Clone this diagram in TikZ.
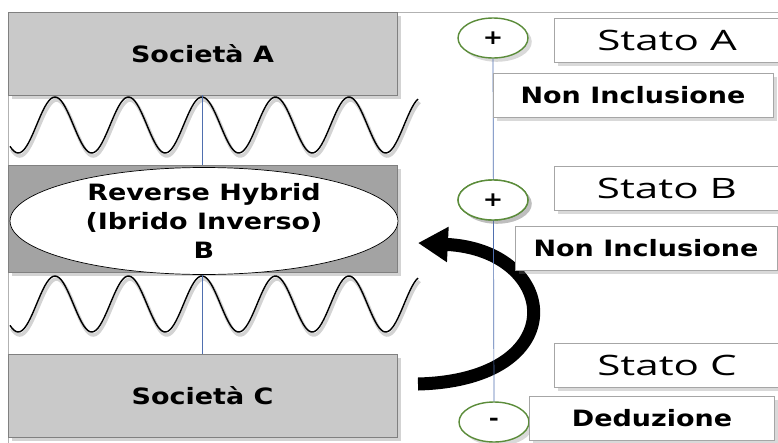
\documentclass[tikz,border=0pt]{standalone}
\usepackage{fontspec}
\newfontfamily\lab[FakeStretch=1.2]{DejaVu Sans Bold}
\newfontfamily\statofont[FakeStretch=1.5]{Open Sans}
\usepackage{tikz}
\usetikzlibrary{shapes.geometric}
\usetikzlibrary{shadows}
\usetikzlibrary{arrows.meta}

\definecolor{boxgray}{HTML}{C9C9C9}
\definecolor{hybridgray}{HTML}{A3A3A3}
\definecolor{lineblue}{HTML}{4F6FAF}
\definecolor{ringgreen}{HTML}{5B8C3A}

\tikzset{
  societa/.style={draw=gray, fill=boxgray, minimum width=7.78cm, inner sep=0pt,
    font=\lab\fontsize{12.8}{15}\selectfont, drop shadow={opacity=.35}},
  statobox/.style={draw=gray!70, fill=white, minimum height=0.88cm, inner sep=0pt,
    drop shadow={opacity=.3}},
  segno/.style={ellipse, draw=ringgreen, thick, fill=white, minimum width=1.4cm,
    minimum height=0.8cm, inner sep=0pt, font=\lab\fontsize{11.5}{13}\selectfont,
    drop shadow={opacity=.3}},
  onda/.style={black, line width=0.8pt},
}

\begin{document}
\begin{tikzpicture}[x=0.02cm, y=-0.02cm]
    \useasboundingbox (0,0) rectangle (778,443);
    % frame
    \draw[gray!60] (8,443) -- (8,12) -- (778,12);
    % companies
    \node[societa, minimum height=1.66cm] (socA) at (202.5,53.5) {Società A};
    \node[societa, fill=hybridgray, minimum height=2.14cm] (socB) at (202.5,218.5) {};
    \node[societa, minimum height=1.66cm] (socC) at (202.5,396) {Società C};
    % waves
    \foreach \c in {125,304} {
      \draw[gray, opacity=.35, line width=2pt, shift={(1.5,3)}]
        plot[domain=10:418, samples=200] (\x, {\c - 28*sin((\x-36.6)/73.5*360)});
      \draw[onda] plot[domain=10:418, samples=200] (\x, {\c - 28*sin((\x-36.6)/73.5*360)});
    }
    \draw[lineblue] (socA.south) -- (socB.north);
    \draw[lineblue] (socB.south) -- (socC.north);
    \node[ellipse, draw=black, fill=white, minimum width=7.76cm, minimum height=2.14cm,
      inner sep=0pt, align=center, font=\lab\fontsize{12.8}{16.5}\selectfont]
      (hybrid) at (204,221) {Reverse Hybrid\\(Ibrido Inverso)\\B};
    % states
    \node[segno] (piuA) at (493,38) {+};
    \node[segno] (piuB) at (493,200) {+};
    \node[segno] (meno) at (494,422) {-};
    \coordinate (coda) at (418,384);
    \coordinate (punta) at (418,243);
    \draw[line width=7.4pt, -{Triangle[length=17pt, width=19pt]}]
      (coda) .. controls (575,380) and (560,250) .. (punta);
    \draw[lineblue] (piuA.south) -- (meno.north);
    \node[segno] at (piuB) {+};
    \node[statobox, minimum width=4.5cm, font=\statofont\fontsize{16}{18}\selectfont]
      (statoA) at (667,40) {Stato A};
    \node[statobox, minimum width=5.6cm, font=\lab\fontsize{12.8}{15}\selectfont]
      (nonA) at (633,95) {Non Inclusione};
    \node[statobox, minimum width=4.5cm, font=\statofont\fontsize{16}{18}\selectfont]
      (statoB) at (667,188.5) {Stato B};
    \node[statobox, minimum width=5.24cm, font=\lab\fontsize{12.8}{15}\selectfont]
      (nonB) at (646,248.5) {Non Inclusione};
    \node[statobox, minimum width=4.5cm, font=\statofont\fontsize{16}{18}\selectfont]
      (statoC) at (667,365) {Stato C};
    \node[statobox, minimum width=4.9cm, font=\lab\fontsize{12.8}{15}\selectfont]
      (dedu) at (652,418.5) {Deduzione};
\end{tikzpicture}
\end{document}
